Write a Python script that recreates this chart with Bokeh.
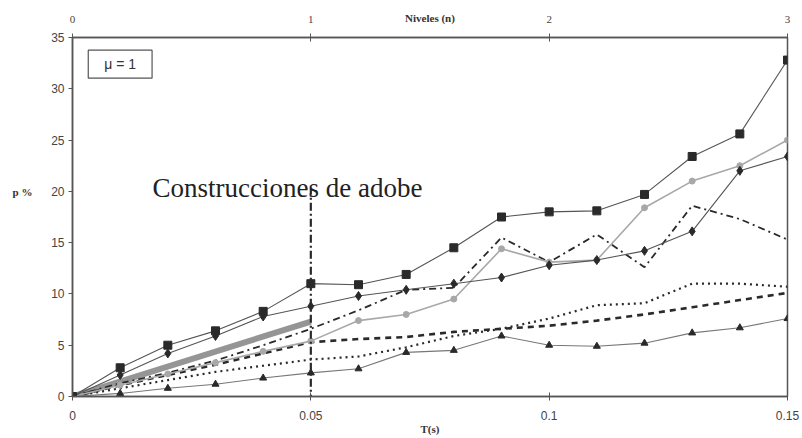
from bokeh.plotting import figure
from bokeh.models import LinearAxis, FixedTicker, Label, Range1d
from bokeh.embed import file_html
from bokeh.resources import INLINE

# ---- data ----
T = [0, 0.01, 0.02, 0.03, 0.04, 0.05, 0.06, 0.07, 0.08, 0.09, 0.10, 0.11, 0.12, 0.13, 0.14, 0.15]
s_squares = [0, 2.8, 5.0, 6.4, 8.3, 11.0, 10.9, 11.9, 14.5, 17.5, 18.0, 18.1, 19.7, 23.4, 25.6, 32.8]
s_diamonds = [0, 2.1, 4.2, 5.9, 7.8, 8.8, 9.8, 10.4, 11.0, 11.6, 12.8, 13.3, 14.2, 16.1, 22.0, 23.4]
s_gray = [0, 1.1, 2.2, 3.3, 4.4, 5.4, 7.4, 8.0, 9.5, 14.4, 13.1, 13.3, 18.4, 21.0, 22.5, 25.0]
s_dashdot = [0, 1.3, 2.3, 3.5, 5.0, 6.6, 8.4, 10.4, 10.6, 15.5, 13.1, 15.8, 12.6, 18.6, 17.3, 15.3]
s_dotted = [0, 0.8, 1.6, 2.4, 3.0, 3.6, 3.9, 4.8, 5.9, 6.6, 7.6, 8.9, 9.1, 11.0, 11.0, 10.7]
s_dashed = [0, 1.1, 2.1, 3.1, 4.2, 5.3, 5.6, 5.8, 6.3, 6.6, 6.9, 7.4, 8.0, 8.7, 9.4, 10.1]
s_triangles = [0, 0.3, 0.8, 1.2, 1.8, 2.3, 2.7, 4.3, 4.5, 5.9, 5.0, 4.9, 5.2, 6.2, 6.7, 7.6]
thick_T = [0, 0.05]
thick_p = [0, 7.3]
marker_T = [0.05, 0.05]
marker_p = [-0.6, 20.3]

x_ticks = [0, 0.05, 0.10, 0.15]
x_tick_labels = ["0", "0.05", "0.1", "0.15"]
top_tick_labels = ["0", "1", "2", "3"]
y_ticks = [0, 5, 10, 15, 20, 25, 30, 35]

p = figure(width=802, height=438, output_backend="svg", toolbar_location=None,
           x_range=Range1d(0, 0.15), y_range=Range1d(0, 35),
           min_border_left=72, min_border_right=15, min_border_top=37, min_border_bottom=42,
           x_axis_location=None, y_axis_location=None)
p.xgrid.visible = False
p.ygrid.visible = False
p.outline_line_color = "#555555"
p.outline_line_width = 1.5
p.background_fill_color = "white"
p.border_fill_color = "white"

axis_color = "#555555"
lab_color = "#444444"

left = LinearAxis(ticker=FixedTicker(ticks=y_ticks))
left.axis_line_color = axis_color
left.axis_line_width = 1.5
left.major_tick_line_color = axis_color
left.major_tick_in = 0
left.major_tick_out = 4
left.minor_tick_line_color = None
left.major_label_text_font = "Liberation Sans"
left.major_label_text_font_size = "12px"
left.major_label_text_color = lab_color
left.major_label_standoff = 4
p.add_layout(left, "left")

bottom = LinearAxis(ticker=FixedTicker(ticks=x_ticks))
bottom.major_label_overrides = {t: l for t, l in zip(x_ticks, x_tick_labels)}
bottom.axis_line_color = axis_color
bottom.axis_line_width = 1.5
bottom.major_tick_line_color = axis_color
bottom.major_tick_in = 4
bottom.major_tick_out = 4
bottom.minor_tick_line_color = None
bottom.major_label_text_font = "Liberation Sans"
bottom.major_label_text_font_size = "12px"
bottom.major_label_text_color = lab_color
bottom.major_label_standoff = 10
bottom.axis_label = "T(s)"
bottom.axis_label_text_font = "Liberation Serif"
bottom.axis_label_text_font_size = "11px"
bottom.axis_label_text_font_style = "bold"
bottom.axis_label_text_color = "#333333"
bottom.axis_label_standoff = 0
p.add_layout(bottom, "below")

top = LinearAxis(ticker=FixedTicker(ticks=x_ticks))
top.major_label_overrides = {t: l for t, l in zip(x_ticks, top_tick_labels)}
top.axis_line_color = axis_color
top.axis_line_width = 1.5
top.major_tick_line_color = axis_color
top.major_tick_in = 4
top.major_tick_out = 4
top.minor_tick_line_color = None
top.major_label_text_font = "Liberation Serif"
top.major_label_text_font_size = "11px"
top.major_label_text_color = lab_color
top.major_label_standoff = 11
p.add_layout(top, "above")

dark = "#2a2a2a"
gray = "#a8a8a8"

# thick gray line
p.line(thick_T, thick_p, line_color="#8a8a8a", line_width=6, line_alpha=0.9)

# dashed series
p.line(T, s_dashed, line_color=dark, line_width=2.6, line_dash="6 5")
# dotted series
p.line(T, s_dotted, line_color=dark, line_width=2.2, line_dash="2 4")
# dash-dot series
p.line(T, s_dashdot, line_color=dark, line_width=1.8, line_dash="7 4 2 4")

# triangles
p.line(T, s_triangles, line_color="#777777", line_width=1.1)
p.scatter(T, s_triangles, marker="triangle", size=7, fill_color=dark, line_color=dark)

# gray circles
p.line(T, s_gray, line_color=gray, line_width=1.6)
p.scatter(T, s_gray, marker="circle", size=6, fill_color=gray, line_color=gray)

# diamonds
p.line(T, s_diamonds, line_color="#555555", line_width=1.1)
p.scatter(T, s_diamonds, marker="diamond", size=9, fill_color=dark, line_color=dark)

# squares
p.line(T, s_squares, line_color="#555555", line_width=1.1)
p.scatter(T, s_squares, marker="square", size=8, fill_color=dark, line_color=dark)

# vertical dash-dot marker at T = 0.05
p.line(marker_T, marker_p, line_color=dark, line_width=2.2, line_dash="8 3 2 3")

# annotations
p.add_layout(Label(x=0.0168, y=20.3, text="Construcciones de adobe",
                   text_font="Liberation Serif", text_font_size="27px",
                   text_color="#222222", text_baseline="middle", text_align="left"))
p.add_layout(Label(x=0.01, y=32.4, text="\u03bc = 1",
                   text_font="Liberation Sans", text_font_size="14px",
                   text_color="#333333", text_baseline="middle", text_align="center",
                   border_line_color="#555555", border_line_width=1.2,
                   background_fill_color="white",
                   padding=dict(left=16, right=16, top=6, bottom=6)))
p.add_layout(Label(x=0.075, y=36.9, text="Niveles (n)",
                   text_font="Liberation Serif", text_font_size="11px",
                   text_font_style="bold", text_color="#333333",
                   text_baseline="middle", text_align="center"), "above")
p.add_layout(Label(x=-0.0105, y=19.9, text="p %",
                   text_font="Liberation Serif", text_font_size="11px",
                   text_font_style="bold", text_color="#333333",
                   text_baseline="middle", text_align="center"), "left")

open("out.html", "w").write(file_html(p, INLINE))
